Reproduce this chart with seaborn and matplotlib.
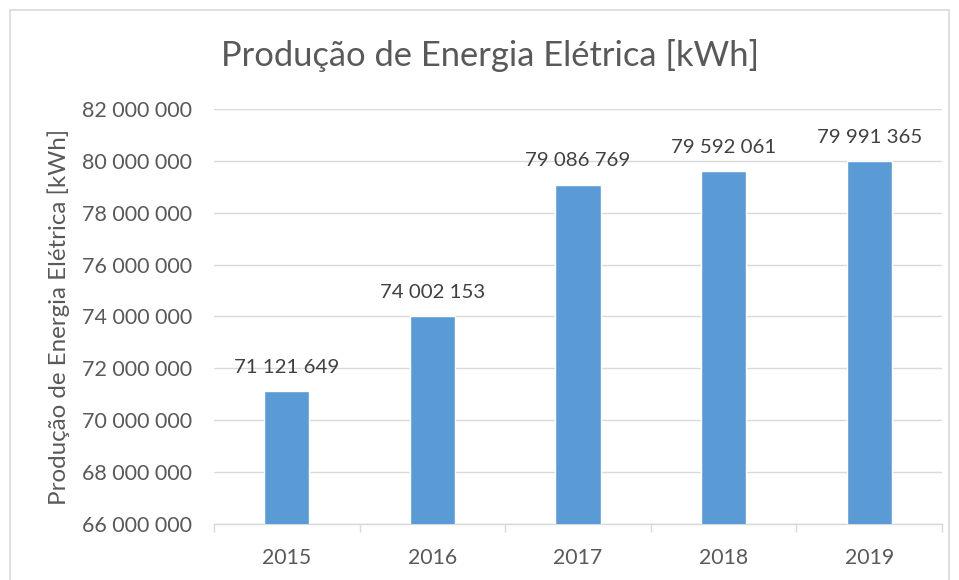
import matplotlib
matplotlib.use("Agg")
import matplotlib.pyplot as plt
import seaborn as sns
import pandas as pd
from matplotlib.patches import Rectangle
from matplotlib.ticker import FuncFormatter, MultipleLocator

years = ["2015", "2016", "2017", "2018", "2019"]
values = [71121649, 74002153, 79086769, 79592061, 79991365]
title = "Produção de Energia Elétrica [kWh]"

sns.set_theme(style="white")
plt.rcParams['font.family'] = ['Lato', 'DejaVu Sans']

df = pd.DataFrame({"Ano": years, "Valor": values})

fig = plt.figure(figsize=(9.59, 5.8), dpi=100)
ax = fig.add_axes([0.2232, 0.0966, 0.7591, 0.7155])

sns.barplot(data=df, x="Ano", y="Valor", color="#5B9BD5", width=0.31,
            saturation=1, ax=ax, zorder=3)

def fmt(v):
    return f"{int(round(v)):,}".replace(",", " ")

ax.set_ylim(66000000, 82000000)
ax.yaxis.set_major_locator(MultipleLocator(2000000))
ax.yaxis.set_major_formatter(FuncFormatter(lambda v, p: fmt(v)))
ax.set_xlim(-0.5, len(years) - 0.5)
ax.grid(axis="y", color="#D9D9D9", linewidth=1, zorder=0)
ax.set_axisbelow(True)

for s in ["top", "right", "left"]:
    ax.spines[s].set_visible(False)
ax.spines["bottom"].set_color("#D9D9D9")
ax.spines["bottom"].set_linewidth(1)

ax.tick_params(axis="y", length=0, labelsize=15.5, labelcolor="#595959", pad=16)
ax.tick_params(axis="x", length=0, labelsize=15.3, labelcolor="#595959", pad=17)
# category boundary ticks
ax.set_xticks([i - 0.5 for i in range(len(years) + 1)], minor=True)
ax.tick_params(axis="x", which="minor", length=6, color="#D9D9D9", width=1, bottom=True)

for i, v in enumerate(values):
    ax.annotate(fmt(v), (i, v), xytext=(0, 11), textcoords="offset points",
                ha="center", va="bottom", fontsize=14.7, color="#404040")

ax.set_xlabel("")
ax.set_ylabel(title, fontsize=17.4, color="#595959", labelpad=8)
fig.text(0.5115, 0.905, title, ha="center", va="center", fontsize=24.8, color="#595959")

fig.patches.append(Rectangle((10 / 959, -0.01), 939 / 959, 1 - 10 / 580 + 0.01,
                             transform=fig.transFigure, fill=False,
                             edgecolor="#D9D9D9", linewidth=1.2))

fig.savefig("out.png", dpi=100)
